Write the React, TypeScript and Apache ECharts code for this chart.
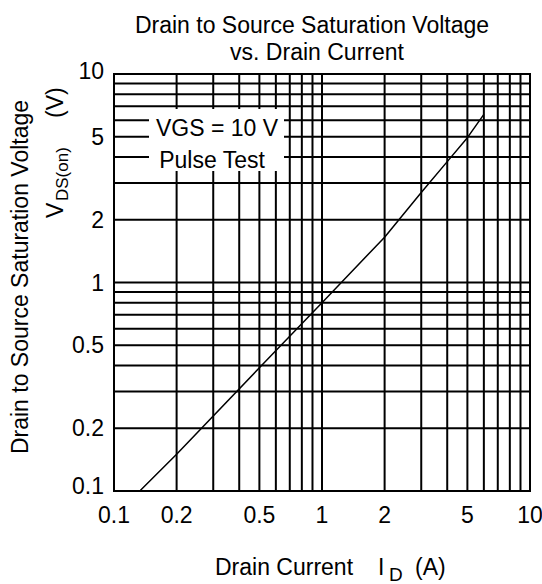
import React, { useEffect, useRef } from 'react';
import * as echarts from 'echarts';

const X_MIN = 0.1;
const X_MAX = 10;
const Y_MIN = 0.1;
const Y_MAX = 10;

const xGridValues = [0.2, 0.3, 0.4, 0.5, 0.6, 0.7, 0.8, 0.9, 1, 2, 3, 4, 5, 6, 7, 8, 9];
const yGridValues = [0.2, 0.3, 0.4, 0.5, 0.6, 0.7, 0.8, 0.9, 1, 2, 3, 4, 5, 6, 7, 8, 9];

const xTickValues = [0.1, 0.2, 0.5, 1, 2, 5, 10];
const xTickLabels = ['0.1', '0.2', '0.5', '1', '2', '5', '10'];
const yTickValues = [0.1, 0.2, 0.5, 1, 2, 5, 10];
const yTickLabels = ['0.1', '0.2', '0.5', '1', '2', '5', '10'];

const drainCurrent = [0.133, 0.2, 0.5, 1, 2, 3, 4, 5, 6];
const vdsOn = [0.1, 0.15, 0.39, 0.8, 1.65, 2.7, 3.8, 4.95, 6.4];

const FONT = '"Liberation Sans", Arial, sans-serif';
const FS = 23;

export default function App() {
  const ref = useRef<HTMLDivElement>(null);

  useEffect(() => {
    if (!ref.current) return;
    const chart = echarts.init(ref.current, undefined, { renderer: 'svg' });

    const lineStyle = { stroke: '#000', lineWidth: 2 };

    const option: any = {
      animation: false,
      backgroundColor: '#fff',
      grid: {
        left: 114,
        right: 12,
        top: 74,
        bottom: 93,
        show: true,
        borderColor: '#000',
        borderWidth: 2,
        backgroundColor: 'transparent',
      },
      xAxis: {
        type: 'log',
        logBase: 10,
        min: X_MIN,
        max: X_MAX,
        axisLine: { show: false },
        axisTick: { show: false },
        axisLabel: { show: false },
        splitLine: { show: false },
      },
      yAxis: {
        type: 'log',
        logBase: 10,
        min: Y_MIN,
        max: Y_MAX,
        axisLine: { show: false },
        axisTick: { show: false },
        axisLabel: { show: false },
        splitLine: { show: false },
      },
      series: [
        {
          type: 'custom',
          name: 'vgrid',
          silent: true,
          z: 1,
          data: xGridValues.map((v) => [v, Y_MIN]),
          renderItem: (params: any, api: any) => {
            const cs = params.coordSys;
            const x = api.coord([api.value(0), Y_MIN])[0];
            return {
              type: 'line',
              shape: { x1: x, y1: cs.y, x2: x, y2: cs.y + cs.height },
              style: lineStyle,
            };
          },
        },
        {
          type: 'custom',
          name: 'hgrid',
          silent: true,
          z: 1,
          data: yGridValues.map((v) => [X_MIN, v]),
          renderItem: (params: any, api: any) => {
            const cs = params.coordSys;
            const y = api.coord([X_MIN, api.value(1)])[1];
            return {
              type: 'line',
              shape: { x1: cs.x, y1: y, x2: cs.x + cs.width, y2: y },
              style: lineStyle,
            };
          },
        },
        {
          type: 'custom',
          name: 'xlabels',
          silent: true,
          clip: false,
          data: xTickValues.map((v) => [v, Y_MIN]),
          renderItem: (params: any, api: any) => {
            const cs = params.coordSys;
            const x = api.coord([api.value(0), Y_MIN])[0];
            return {
              type: 'text',
              x: x,
              y: cs.y + cs.height + 24,
              style: {
                text: xTickLabels[params.dataIndex],
                fill: '#000',
                font: `${FS}px ${FONT}`,
                align: 'center',
                verticalAlign: 'middle',
              },
            };
          },
        },
        {
          type: 'custom',
          name: 'ylabels',
          silent: true,
          clip: false,
          data: yTickValues.map((v) => [X_MIN, v]),
          renderItem: (params: any, api: any) => {
            const cs = params.coordSys;
            const v = api.value(1);
            let y = api.coord([X_MIN, v])[1];
            if (v === Y_MIN) y -= 5;
            if (v === Y_MAX) y -= 3;
            return {
              type: 'text',
              x: cs.x - 10,
              y: y,
              style: {
                text: yTickLabels[params.dataIndex],
                fill: '#000',
                font: `${FS}px ${FONT}`,
                align: 'right',
                verticalAlign: 'middle',
              },
            };
          },
        },
        {
          type: 'line',
          name: 'VDS(on)',
          data: drainCurrent.map((x, i) => [x, vdsOn[i]]),
          showSymbol: false,
          symbol: 'none',
          z: 5,
          lineStyle: { color: '#000', width: 1.5 },
        },
      ],
      graphic: [
        {
          type: 'text',
          x: 312,
          y: 25,
          z: 100,
          style: {
            text: 'Drain to Source Saturation Voltage',
            fill: '#000',
            font: `${FS}px ${FONT}`,
            align: 'center',
            verticalAlign: 'middle',
          },
        },
        {
          type: 'text',
          x: 317,
          y: 52,
          z: 100,
          style: {
            text: 'vs. Drain Current',
            fill: '#000',
            font: `${FS}px ${FONT}`,
            align: 'center',
            verticalAlign: 'middle',
          },
        },
        {
          type: 'rect',
          z: 100,
          shape: { x: 149, y: 109, width: 135, height: 62 },
          style: { fill: '#fff' },
        },
        {
          type: 'text',
          x: 217,
          y: 128,
          z: 101,
          style: {
            text: 'VGS = 10 V',
            fill: '#000',
            font: `${FS}px ${FONT}`,
            align: 'center',
            verticalAlign: 'middle',
          },
        },
        {
          type: 'text',
          x: 212,
          y: 160,
          z: 101,
          style: {
            text: 'Pulse Test',
            fill: '#000',
            font: `${FS}px ${FONT}`,
            align: 'center',
            verticalAlign: 'middle',
          },
        },
        {
          type: 'text',
          x: 20,
          y: 277,
          rotation: Math.PI / 2,
          z: 100,
          style: {
            text: 'Drain to Source Saturation Voltage',
            fill: '#000',
            font: `${FS}px ${FONT}`,
            align: 'center',
            verticalAlign: 'middle',
          },
        },
        {
          type: 'group',
          x: 55,
          y: 218,
          rotation: Math.PI / 2,
          z: 100,
          children: [
            {
              type: 'text',
              x: 0,
              y: 0,
              style: {
                text: 'V',
                fill: '#000',
                font: `${FS}px ${FONT}`,
                align: 'left',
                verticalAlign: 'middle',
              },
            },
            {
              type: 'text',
              x: 17,
              y: 7,
              style: {
                text: 'DS(on)',
                fill: '#000',
                font: `17px ${FONT}`,
                align: 'left',
                verticalAlign: 'middle',
              },
            },
            {
              type: 'text',
              x: 100,
              y: 0,
              style: {
                text: '(V)',
                fill: '#000',
                font: `${FS}px ${FONT}`,
                align: 'left',
                verticalAlign: 'middle',
              },
            },
          ],
        },
        {
          type: 'group',
          x: 215,
          y: 567,
          z: 100,
          children: [
            {
              type: 'text',
              x: 0,
              y: 0,
              style: {
                text: 'Drain Current',
                fill: '#000',
                font: `${FS}px ${FONT}`,
                align: 'left',
                verticalAlign: 'middle',
              },
            },
            {
              type: 'text',
              x: 163,
              y: 0,
              style: {
                text: 'I',
                fill: '#000',
                font: `${FS}px ${FONT}`,
                align: 'left',
                verticalAlign: 'middle',
              },
            },
            {
              type: 'text',
              x: 174,
              y: 7,
              style: {
                text: 'D',
                fill: '#000',
                font: `19px ${FONT}`,
                align: 'left',
                verticalAlign: 'middle',
              },
            },
            {
              type: 'text',
              x: 200,
              y: 0,
              style: {
                text: '(A)',
                fill: '#000',
                font: `${FS}px ${FONT}`,
                align: 'left',
                verticalAlign: 'middle',
              },
            },
          ],
        },
      ],
    };

    chart.setOption(option);
    return () => {
      chart.dispose();
    };
  }, []);

  return (
    <div
      ref={ref}
      style={{ position: 'fixed', left: 0, top: 0, width: 542, height: 584 }}
    />
  );
}
